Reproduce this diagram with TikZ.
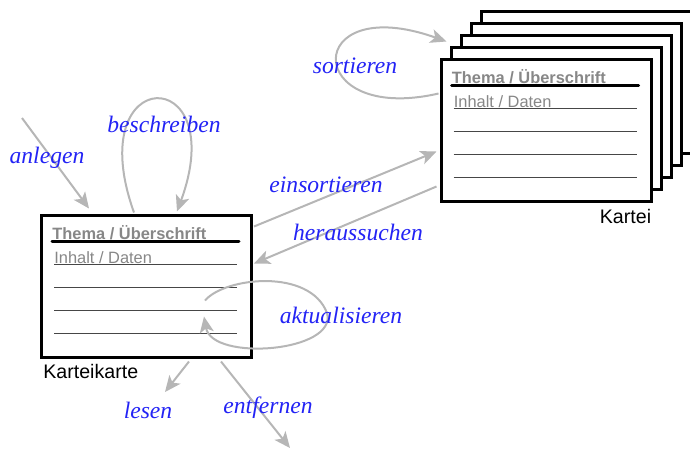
\documentclass[tikz,border=0pt]{standalone}
\usepackage{fontspec}
\newfontfamily\kartenfont{Liberation Sans}
\newfontfamily\aktionfont{Liberation Serif}
\usetikzlibrary{arrows.meta,calc,positioning}

\definecolor{pfeilgrau}{RGB}{182,182,182}
\definecolor{textgrau}{RGB}{135,135,135}
\definecolor{liniengrau}{RGB}{70,70,70}
\definecolor{labelblau}{RGB}{35,35,245}

\tikzset{
  karte/.style={draw=black,line width=1.5pt,fill=white,rectangle,
    minimum width=105pt,minimum height=71pt,inner sep=0pt},
  kartentext/.style={anchor=west,inner sep=0pt,text=textgrau,
    font=\kartenfont\fontsize{8.2}{10}\selectfont},
  aktion/.style={text=labelblau,font=\aktionfont\itshape\fontsize{11.8}{14}\selectfont},
  pfeil/.style={draw=pfeilgrau,line width=1pt,-{Stealth[length=8pt,width=7pt,inset=2pt]}},
}

% Linien und Beschriftung einer Karte
\newcommand\kartenlinien[1]{%
  \node[kartentext,font=\kartenfont\bfseries\fontsize{8.2}{10}\selectfont] (#1-titel)
    at ([shift={(12,19)}]#1.north west) {Thema / Überschrift};
  \draw[line width=1.5pt,line cap=round] ([shift={(12,28)}]#1.north west) -- ([shift={(199,28)}]#1.north west);
  \node[kartentext] (#1-inhalt) at ([shift={(14,44)}]#1.north west) {Inhalt / Daten};
  \foreach \y in {51,74,97,120}
    \draw[liniengrau,line width=0.85pt] ([shift={(14,\y)}]#1.north west) -- ([shift={(197,\y)}]#1.north west);
}

\begin{document}
\begin{tikzpicture}[x=0.5pt,y=-0.5pt]
  \useasboundingbox (0,0) rectangle (690,452);

  % Kartei: Stapel von hinten nach vorne
  \coordinate (kartei-mitte) at (546,130);
  \foreach \i in {4,3,2,1}
    \node[karte] (stapel\i) at ($(kartei-mitte)+(10*\i,-11.8*\i)$) {};
  \node[karte] (kartei) at (kartei-mitte) {};
  \kartenlinien{kartei}
  \node[anchor=east,inner sep=0pt,font=\kartenfont\fontsize{9.8}{12}\selectfont] (kartei-name)
    at ([shift={(-1,14)}]kartei.south east) {Kartei};

  % einzelne Karteikarte
  \node[karte] (karte) at (146.5,286) {};
  \kartenlinien{karte}
  \node[anchor=west,inner sep=0pt,font=\kartenfont\fontsize{9.8}{12}\selectfont] (karte-name)
    at ([shift={(3,13)}]karte.south west) {Karteikarte};

  % freie Enden
  \coordinate (anlegen-start) at (22,118);
  \coordinate (lesen-ende) at (165,392);
  \coordinate (entfernen-ende) at (290,448);

  % Aktionen
  \draw[pfeil] (anlegen-start) -- ([shift={(49,-5)}]karte.north west);
  \draw[pfeil] ([shift={(94,-1)}]karte.north west)
    .. controls (80,62) and (232,62) .. ([shift={(137,-2)}]karte.north west);
  \draw[pfeil] ([shift={(1,13)}]karte.north east) -- ([shift={(-3,94)}]kartei.north west);
  \draw[pfeil] ([shift={(-3,129)}]kartei.north west) -- ([shift={(1,50)}]karte.north east);
  \draw[pfeil] ([shift={(-1,36)}]kartei.north west)
    .. controls (302,125) and (302,-10) .. ([shift={(7,-16)}]kartei.north west);
  \draw[pfeil] ([shift={(165,87)}]karte.north west)
    .. controls (225,277) and (310,268) .. (327,313)
    .. controls (338,352) and (212,362) .. ([shift={(164,103)}]karte.north west);
  \draw[pfeil] ([shift={(149,3)}]karte.south west) -- (lesen-ende);
  \draw[pfeil] ([shift={(181,3)}]karte.south west) -- (entfernen-ende);

  \node[aktion] (anlegen) at (47,158) {anlegen};
  \node[aktion] (beschreiben) at (164,124) {beschreiben};
  \node[aktion] (einsortieren) at (326,185) {einsortieren};
  \node[aktion] (heraussuchen) at (358,232) {heraussuchen};
  \node[aktion] (sortieren) at (355,66) {sortieren};
  \node[aktion] (aktualisieren) at (341,315) {aktualisieren};
  \node[aktion] (lesen) at (148,410) {lesen};
  \node[aktion] (entfernen) at (268,408) {entfernen};
\end{tikzpicture}
\end{document}
